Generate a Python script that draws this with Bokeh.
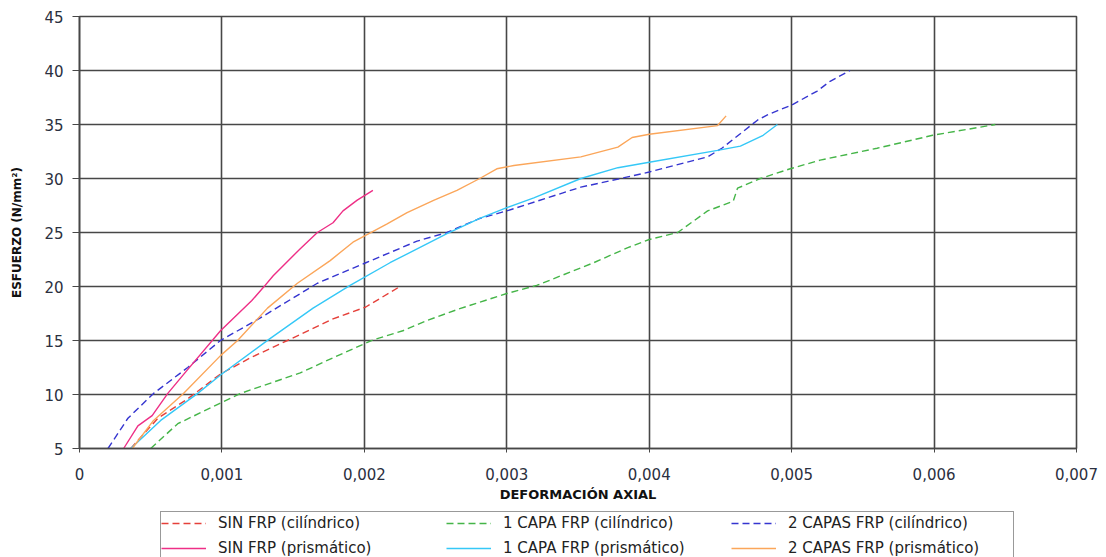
from bokeh.plotting import figure
from bokeh.layouts import column
from bokeh.models import Legend, LegendItem, CustomJSTickFormatter, FixedTicker, Range1d
from bokeh.embed import file_html
from bokeh.resources import INLINE

# Axial strain (x) vs. stress in N/mm2 (y) for each specimen series
sin_cil_x = [0.00036, 0.00055, 0.00076, 0.00099, 0.00120, 0.00146, 0.00178, 0.00201, 0.00225]
sin_cil_y = [5.0, 7.8, 9.6, 11.9, 13.4, 15.0, 17.0, 18.1, 20.0]

capa1_cil_x = [0.00050, 0.00069, 0.00099, 0.00113, 0.00155, 0.00178, 0.00206, 0.00227, 0.00244,
               0.00267, 0.00300, 0.00321, 0.00361, 0.00385, 0.00400, 0.00420, 0.00441, 0.00459,
               0.00462, 0.00478, 0.00499, 0.00520, 0.00560, 0.00599, 0.00643]
capa1_cil_y = [5.0, 7.3, 9.2, 10.1, 12.0, 13.4, 15.05, 15.9, 16.85,
               17.95, 19.35, 20.1, 22.2, 23.6, 24.35, 25.0, 27.0, 27.9,
               29.1, 30.0, 30.9, 31.7, 32.8, 34.0, 35.0]

capas2_cil_x = [0.00020, 0.00034, 0.00052, 0.00076, 0.00099, 0.00127, 0.00167, 0.00201, 0.00237,
                0.00258, 0.00281, 0.00300, 0.00352, 0.00380, 0.00400, 0.00441, 0.00451, 0.00476,
                0.00483, 0.00500, 0.00518, 0.00527, 0.00541]
capas2_cil_y = [5.0, 7.8, 10.1, 12.5, 15.0, 17.1, 20.3, 22.2, 24.2,
                25.0, 26.3, 27.0, 29.2, 30.0, 30.6, 32.0, 32.8, 35.4,
                35.9, 36.8, 38.1, 39.0, 40.0]

sin_pri_x = [0.00031, 0.00041, 0.00051, 0.00062, 0.00074, 0.00099, 0.00121, 0.00129, 0.00136,
             0.00155, 0.00167, 0.00178, 0.00185, 0.00195, 0.00206]
sin_pri_y = [5.0, 7.1, 8.05, 10.1, 12.0, 15.9, 18.7, 19.9, 21.0,
             23.5, 25.0, 25.9, 27.0, 28.0, 28.9]

capa1_pri_x = [0.00036, 0.00057, 0.00083, 0.00099, 0.00133, 0.00164, 0.00190, 0.00218, 0.00258,
               0.00281, 0.00300, 0.00319, 0.00352, 0.00378, 0.00400, 0.00448, 0.00464, 0.00480,
               0.00490]
capa1_pri_y = [5.0, 7.6, 10.1, 11.8, 15.1, 18.0, 20.1, 22.2, 24.9,
               26.3, 27.3, 28.2, 30.0, 31.0, 31.5, 32.6, 33.0, 34.0,
               35.0]

capas2_pri_x = [0.00037, 0.00052, 0.00073, 0.00099, 0.00111, 0.00132, 0.00153, 0.00176, 0.00192,
                0.00216, 0.00230, 0.00249, 0.00265, 0.00281, 0.00293, 0.00305, 0.00352, 0.00378,
                0.00388, 0.00400, 0.00448, 0.00454]
capas2_pri_y = [5.0, 7.6, 10.1, 13.6, 15.0, 18.0, 20.3, 22.4, 24.1,
                25.8, 26.85, 28.0, 28.9, 30.0, 30.9, 31.2, 32.0, 32.9,
                33.8, 34.1, 34.9, 35.8]

x_ticks = [0, 0.001, 0.002, 0.003, 0.004, 0.005, 0.006, 0.007]
y_ticks = [5, 10, 15, 20, 25, 30, 35, 40, 45]

series = [
    ("SIN FRP (cilíndrico)", sin_cil_x, sin_cil_y, "#e5403a", "dashed"),
    ("1 CAPA FRP (cilíndrico)", capa1_cil_x, capa1_cil_y, "#45b548", "dashed"),
    ("2 CAPAS FRP (cilíndrico)", capas2_cil_x, capas2_cil_y, "#3535d0", "dashed"),
    ("SIN FRP (prismático)", sin_pri_x, sin_pri_y, "#ee2f86", "solid"),
    ("1 CAPA FRP (prismático)", capa1_pri_x, capa1_pri_y, "#35c8f7", "solid"),
    ("2 CAPAS FRP (prismático)", capas2_pri_x, capas2_pri_y, "#fba65a", "solid"),
]

FONT = "DejaVu Sans"
GRID = "#474747"
TOTAL_W, TOTAL_H = 1106, 557
MAIN_H = 506

p = figure(width=TOTAL_W, height=MAIN_H, output_backend="svg", toolbar_location=None,
           x_range=Range1d(0, 0.007), y_range=Range1d(5, 45),
           min_border_left=79, min_border_right=30, min_border_top=16,
           min_border_bottom=MAIN_H - 448)
p.background_fill_color = "white"
p.border_fill_color = "white"
p.outline_line_color = GRID
p.outline_line_width = 1.6

for label, xs, ys, color, dash in series:
    p.line(xs, ys, line_color=color, line_width=1.4,
           line_dash=("7 4" if dash == "dashed" else "solid"))

# axes
p.xaxis.ticker = FixedTicker(ticks=x_ticks)
p.yaxis.ticker = FixedTicker(ticks=y_ticks)
p.xaxis.formatter = CustomJSTickFormatter(
    code="return tick == 0 ? '0' : tick.toFixed(3).replace('.', ',');")
p.xaxis.minor_tick_line_color = None
p.yaxis.minor_tick_line_color = None

for ax in (p.xaxis, p.yaxis):
    ax.axis_line_color = GRID
    ax.axis_line_width = 1.6
    ax.major_tick_line_color = GRID
    ax.major_tick_in = 0
    ax.major_label_text_font = FONT
    ax.major_label_text_font_size = "15px"
    ax.major_label_text_color = "#2b3040"
    ax.axis_label_text_font = FONT
    ax.axis_label_text_font_style = "bold"
    ax.axis_label_text_color = "#111111"

p.xaxis.axis_label = "DEFORMACIÓN AXIAL"
p.xaxis.axis_label_text_font_size = "13px"
p.xaxis.major_tick_out = 4
p.xaxis.major_label_standoff = 15
p.xaxis.axis_label_standoff = 4

p.yaxis.axis_label = "ESFUERZO (N/mm²)"
p.yaxis.axis_label_text_font_size = "12px"
p.yaxis.major_tick_out = 7
p.yaxis.major_label_standoff = 9
p.yaxis.axis_label_standoff = 17

p.xgrid.ticker = FixedTicker(ticks=x_ticks)
p.ygrid.ticker = FixedTicker(ticks=y_ticks)
for g in (p.xgrid, p.ygrid):
    g.grid_line_color = GRID
    g.grid_line_width = 1.6

# legend strip under the chart; its key lines hold a single point each,
# so nothing is drawn in the strip itself
leg = figure(width=TOTAL_W, height=TOTAL_H - MAIN_H, output_backend="svg",
             toolbar_location=None, x_range=Range1d(0, 0.007), y_range=Range1d(5, 45),
             min_border=0, min_border_top=0, min_border_bottom=0)
leg.axis.visible = False
leg.grid.visible = False
leg.outline_line_color = None
leg.background_fill_color = "white"
leg.border_fill_color = "white"

items = []
for label, xs, ys, color, dash in series:
    r = leg.line(xs[:1], ys[:1], line_color=color, line_width=1.4,
                 line_dash=("7 4" if dash == "dashed" else "solid"))
    items.append(LegendItem(label=label, renderers=[r]))

legend = Legend(items=items, orientation="horizontal", ncols=3,
                location=(160 - 79, -3), margin=0, padding=0, spacing=3,
                glyph_width=45, glyph_height=22, label_height=22,
                label_width=225, label_standoff=12,
                label_text_font=FONT, label_text_font_size="15px",
                label_text_color="#222222",
                border_line_color="#333333", border_line_width=1.2,
                background_fill_color="white")
leg.add_layout(legend)

layout = column(p, leg, spacing=0)
open("out.html", "w").write(file_html(layout, INLINE))
